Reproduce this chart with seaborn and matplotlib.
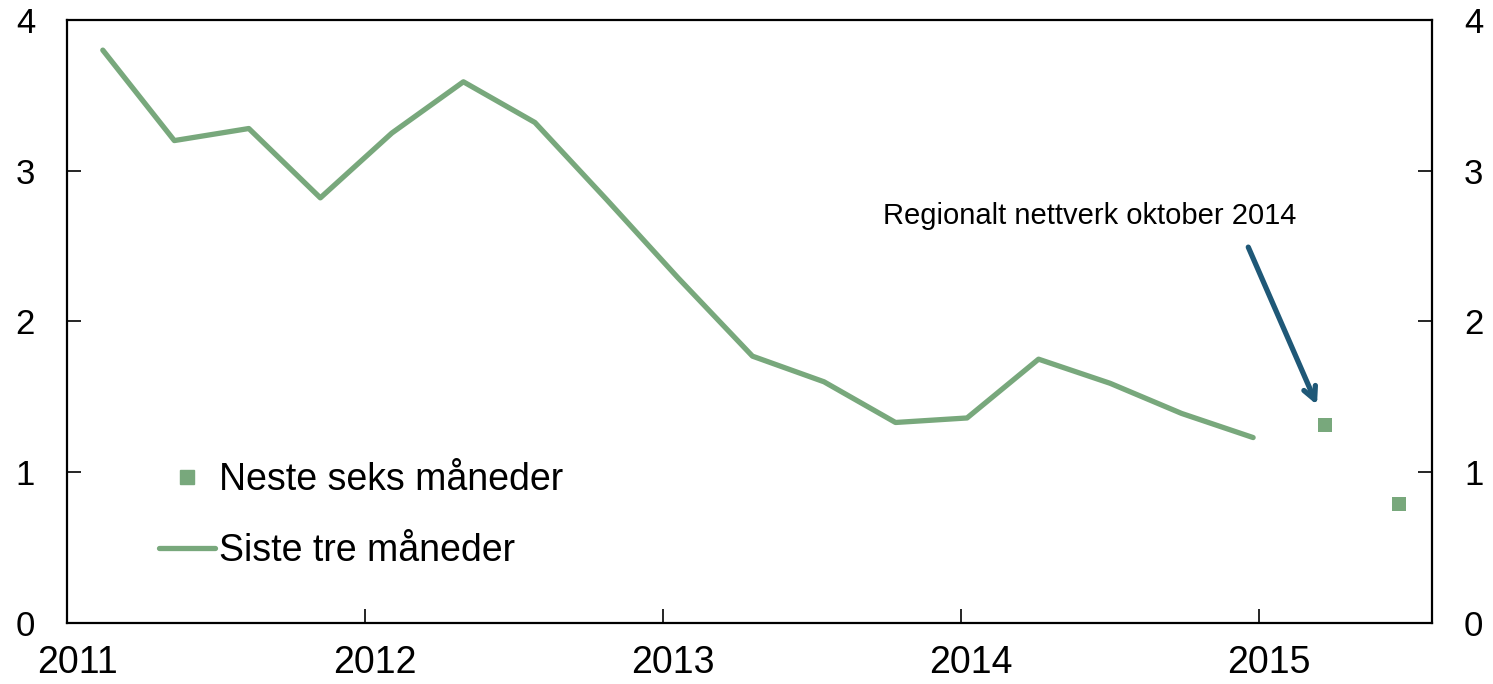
import matplotlib
matplotlib.use('Agg')
import matplotlib.pyplot as plt
import matplotlib.transforms as mtransforms
from matplotlib.lines import Line2D
import seaborn as sns
import pandas as pd

# Regionalt nettverk: survey rounds (decimal year) and growth indicator
siste_x = [2011.12, 2011.36, 2011.61, 2011.85, 2012.09, 2012.33, 2012.57, 2012.81,
           2013.05, 2013.30, 2013.54, 2013.78, 2014.02, 2014.26, 2014.50, 2014.74, 2014.98]
siste_y = [3.80, 3.20, 3.28, 2.82, 3.25, 3.59, 3.32, 2.81,
           2.29, 1.77, 1.60, 1.33, 1.36, 1.75, 1.59, 1.39, 1.23]
neste_x = [2015.22, 2015.47]
neste_y = [1.31, 0.79]

x_ticks = [2011, 2012, 2013, 2014, 2015]
y_ticks = [0, 1, 2, 3, 4]

gronn = '#78a87c'
bla = '#1f5877'

sns.set_style('ticks')
plt.rcParams['font.family'] = ['Liberation Sans', 'DejaVu Sans']
plt.rcParams['text.color'] = 'black'
plt.rcParams['xtick.color'] = 'black'
plt.rcParams['ytick.color'] = 'black'

fig = plt.figure(figsize=(14.93, 6.84), dpi=100)
ax = fig.add_axes([0.0449, 0.0892, 0.9142, 0.8816])

df_siste = pd.DataFrame({'x': siste_x, 'y': siste_y})
df_neste = pd.DataFrame({'x': neste_x, 'y': neste_y})

sns.lineplot(data=df_siste, x='x', y='y', ax=ax, color=gronn, linewidth=3.8,
             solid_capstyle='round')
sns.scatterplot(data=df_neste, x='x', y='y', ax=ax, color=gronn, marker='s',
                s=100, linewidth=0)

ax.set_xlim(2011, 2015.58)
ax.set_ylim(0, 4)
ax.set_xticks(x_ticks)
ax.set_yticks(y_ticks)
ax.set_xlabel('')
ax.set_ylabel('')

for s in ax.spines.values():
    s.set_visible(True)
    s.set_linewidth(1.6)
    s.set_color('black')

ax.tick_params(axis='y', direction='in', length=10, width=1.2, left=True, right=True,
               labelleft=True, labelright=True, labelsize=25, pad=23)
ax.tick_params(axis='x', direction='in', length=10, width=1.2, labelsize=27, pad=16)

# x labels sit slightly right of their ticks in the original
off = mtransforms.ScaledTranslation(10 / 100, 0, fig.dpi_scale_trans)
for lab in ax.get_xticklabels():
    lab.set_transform(lab.get_transform() + off)

# annotation
ax.text(2014.43, 2.70, 'Regionalt nettverk oktober 2014', fontsize=21,
        ha='center', va='center')
ax.annotate('', xy=(2015.198, 1.43), xytext=(2014.96, 2.51),
            arrowprops=dict(arrowstyle='->,head_length=0.9,head_width=0.45',
                            color=bla, lw=3.8))

handles = [
    Line2D([], [], color=gronn, marker='s', linestyle='none', markersize=10),
    Line2D([], [], color=gronn, linewidth=3.8, solid_capstyle='round'),
]
ax.legend(handles, ['Neste seks måneder', 'Siste tre måneder'], loc='lower left',
          bbox_to_anchor=(0.043, 0.033), frameon=False, fontsize=27,
          handlelength=1.47, handletextpad=0.13, labelspacing=0.95)

fig.savefig('out.png', dpi=100)
